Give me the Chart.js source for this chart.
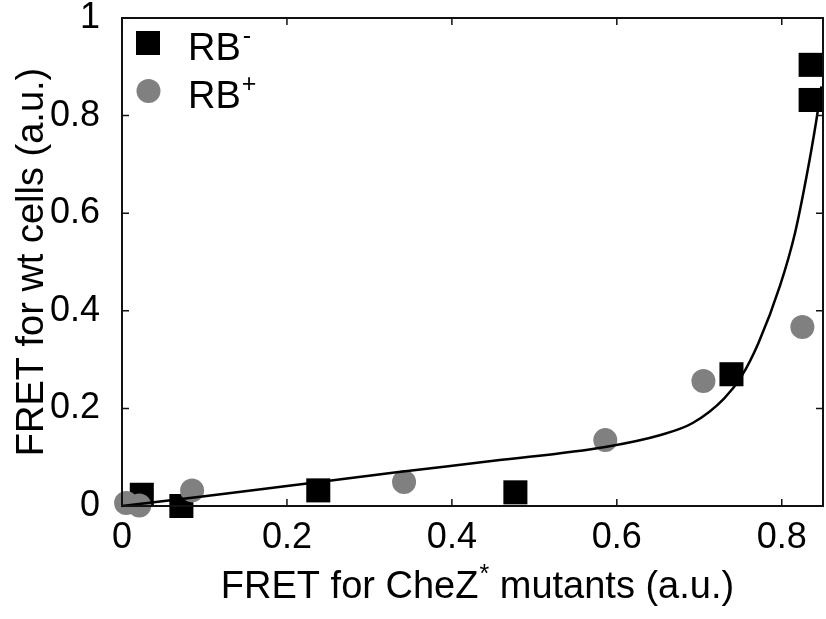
<!DOCTYPE html>
<html lang="en">
<head>
  <meta charset="UTF-8" />
  <title>FRET wt vs CheZ* mutants</title>
  <script src="https://cdn.jsdelivr.net/npm/chart.js@4.4.1/dist/chart.umd.min.js"></script>
  <style>
    html, body {
      margin: 0;
      padding: 0;
      background: #fff;
      overflow: hidden;
    }
    #fretChart {
      display: block;
    }
  </style>
</head>
<body>
  <canvas id="fretChart" width="840" height="619"></canvas>

  <script>
    // Measured points, RB- (squares) and RB+ (circles)
    const rbMinusX = [0.024, 0.072, 0.238, 0.477, 0.739, 0.835, 0.835];
    const rbMinusY = [0.023, 0.000, 0.032, 0.028, 0.270, 0.904, 0.832];
    const rbPlusX = [0.005, 0.021, 0.085, 0.342, 0.586, 0.705, 0.825];
    const rbPlusY = [0.006, 0.001, 0.032, 0.049, 0.135, 0.256, 0.367];

    // Fitted curve
    const fitX = [0, 0.1, 0.2, 0.333, 0.453, 0.586, 0.652, 0.692, 0.730, 0.752, 0.772, 0.798, 0.816, 0.830, 0.842, 0.848];
    const fitY = [0, 0.020, 0.041, 0.069, 0.093, 0.121, 0.145, 0.170, 0.220, 0.268, 0.335, 0.452, 0.559, 0.675, 0.791, 0.860];

    const xTicks = [0, 0.2, 0.4, 0.6, 0.8];
    const yTicks = [0, 0.2, 0.4, 0.6, 0.8, 1];

    const FONT = "'Liberation Sans', Arial, Helvetica, sans-serif";
    const GRAY = '#808080';

    function toPoints(xs, ys) {
      return xs.map((x, i) => ({ x: x, y: ys[i] }));
    }

    // draws a run of text pieces, some of them raised as superscripts
    function drawRich(ctx, parts, x, y, align, size) {
      const supSize = Math.round(size * 0.65);
      let total = 0;
      const widths = parts.map(p => {
        ctx.font = (p.sup ? supSize : size) + 'px ' + FONT;
        const w = ctx.measureText(p.text).width + (p.gap || 0);
        total += w;
        return w;
      });
      let cx = align === 'center' ? x - total / 2 : x;
      parts.forEach((p, i) => {
        ctx.font = (p.sup ? supSize : size) + 'px ' + FONT;
        ctx.fillText(p.text, cx, p.sup ? y - size * 0.42 : y);
        cx += widths[i];
      });
    }

    // box around the plot with inward ticks on every side, gnuplot style
    const framePlugin = {
      id: 'frame',
      afterDatasetsDraw(chart) {
        const { ctx, chartArea: a, scales } = chart;
        const tl = 7;
        ctx.save();
        ctx.strokeStyle = '#111';
        ctx.lineWidth = 2;
        ctx.strokeRect(a.left, a.top, a.right - a.left, a.bottom - a.top);
        ctx.lineWidth = 1.5;
        ctx.beginPath();
        xTicks.forEach(v => {
          const px = scales.x.getPixelForValue(v);
          ctx.moveTo(px, a.bottom); ctx.lineTo(px, a.bottom - tl);
          ctx.moveTo(px, a.top); ctx.lineTo(px, a.top + tl);
        });
        yTicks.forEach(v => {
          const py = scales.y.getPixelForValue(v);
          ctx.moveTo(a.left, py); ctx.lineTo(a.left + tl, py);
          ctx.moveTo(a.right, py); ctx.lineTo(a.right - tl, py);
        });
        ctx.stroke();
        ctx.restore();
      },
      afterDraw(chart) {
        const ctx = chart.ctx;
        const a = chart.chartArea;
        const size = 38;
        ctx.save();
        ctx.fillStyle = '#000';
        ctx.textBaseline = 'alphabetic';
        ctx.textAlign = 'left';

        // legend
        const sq = chart.data.datasets[2];
        const ci = chart.data.datasets[1];
        ctx.fillStyle = sq.backgroundColor;
        ctx.fillRect(136, 31, 24, 24);
        ctx.fillStyle = ci.backgroundColor;
        ctx.beginPath();
        ctx.arc(148.5, 91, 12, 0, Math.PI * 2);
        ctx.fill();
        ctx.fillStyle = '#000';
        drawRich(ctx, [{ text: 'RB', gap: 2 }, { text: '-', sup: true }], 188, 60, 'left', size);
        drawRich(ctx, [{ text: 'RB', gap: 1 }, { text: '+', sup: true }], 188, 108, 'left', size);

        // x axis title
        const cx = (a.left + a.right) / 2 + 5;
        drawRich(ctx, [
          { text: 'FRET for CheZ', gap: 1 },
          { text: '*', sup: true },
          { text: ' mutants (a.u.)' }
        ], cx, 598, 'center', size);

        // y axis title
        ctx.translate(43, (a.top + a.bottom) / 2);
        ctx.rotate(-Math.PI / 2);
        ctx.textAlign = 'center';
        ctx.font = size + 'px ' + FONT;
        ctx.fillText('FRET for wt cells (a.u.)', 0, 0);
        ctx.restore();
      }
    };

    const ctx = document.getElementById('fretChart').getContext('2d');
    new Chart(ctx, {
      type: 'scatter',
      data: {
        datasets: [
          {
            label: 'fit',
            data: toPoints(fitX, fitY),
            showLine: true,
            borderColor: '#000',
            borderWidth: 2.5,
            pointRadius: 0,
            cubicInterpolationMode: 'monotone',
            clip: false,
            order: 0
          },
          {
            label: 'RB+',
            data: toPoints(rbPlusX, rbPlusY),
            pointStyle: 'circle',
            pointRadius: 12,
            pointBorderWidth: 0,
            backgroundColor: GRAY,
            borderColor: GRAY,
            clip: false,
            order: 1
          },
          {
            label: 'RB-',
            data: toPoints(rbMinusX, rbMinusY),
            pointStyle: 'rect',
            pointRadius: 17,
            pointBorderWidth: 0,
            backgroundColor: '#000',
            borderColor: '#000',
            clip: false,
            order: 2
          }
        ]
      },
      options: {
        responsive: false,
        animation: false,
        layout: { padding: { top: 18, right: 8, left: 0, bottom: 0 } },
        plugins: {
          legend: { display: false },
          tooltip: { enabled: false }
        },
        scales: {
          x: {
            type: 'linear',
            min: 0,
            max: 0.85,
            afterFit: s => { s.height = 113; s.paddingLeft = 0; s.paddingRight = 0; },
            afterBuildTicks: s => { s.ticks = xTicks.map(v => ({ value: v })); },
            grid: { display: false, drawTicks: false },
            border: { display: false },
            ticks: {
              color: '#000',
              padding: 14,
              maxRotation: 0,
              font: { family: FONT, size: 36, lineHeight: 1 },
              callback: v => String(v)
            }
          },
          y: {
            type: 'linear',
            min: 0,
            max: 1,
            afterFit: s => { s.width = 122; s.paddingTop = 0; s.paddingBottom = 0; },
            afterBuildTicks: s => { s.ticks = yTicks.map(v => ({ value: v })); },
            grid: { display: false, drawTicks: false },
            border: { display: false },
            ticks: {
              color: '#000',
              padding: 22,
              font: { family: FONT, size: 36, lineHeight: 0.9 },
              callback: v => String(v)
            }
          }
        }
      },
      plugins: [framePlugin]
    });
  </script>
</body>
</html>
